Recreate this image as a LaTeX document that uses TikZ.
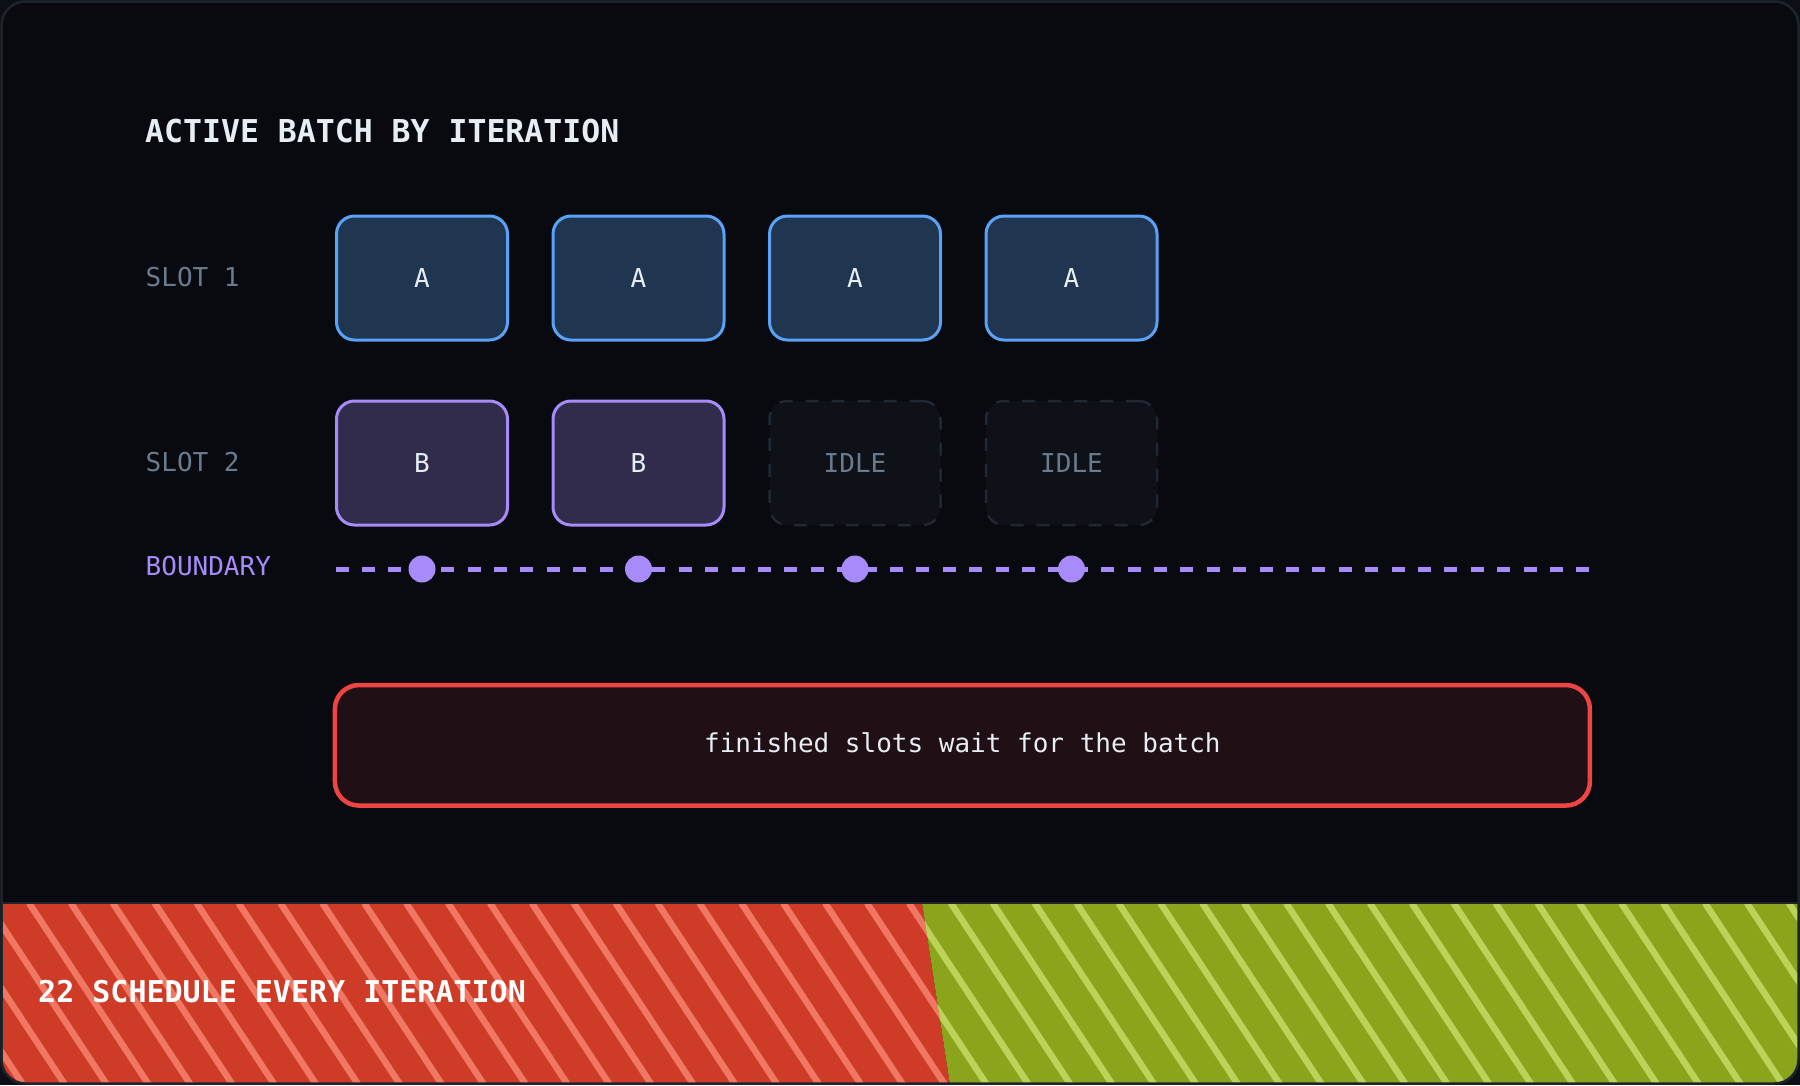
\documentclass[tikz,border=0pt]{standalone}
\usepackage{fontspec}
\newfontfamily\mono{DejaVu Sans Mono}
\definecolor{pagebg}{HTML}{0C1016}
\definecolor{cardbg}{HTML}{080A0F}
\definecolor{cardline}{HTML}{1F242C}
\definecolor{titlec}{HTML}{E6EDF3}
\definecolor{mutedc}{HTML}{6B7B8E}
\definecolor{purp}{HTML}{A78BFA}
\definecolor{blueline}{HTML}{5AA2F5}
\definecolor{bluefill}{HTML}{1F3550}
\definecolor{purpfill}{HTML}{322C4C}
\definecolor{idlefill}{HTML}{0E1118}
\definecolor{idleline}{HTML}{1F2833}
\definecolor{notered}{HTML}{EF4444}
\definecolor{notefill}{HTML}{201016}
\definecolor{bandred}{HTML}{CE3B27}
\definecolor{bandsalmon}{HTML}{F07763}
\definecolor{bandgreen}{HTML}{8AA51B}
\definecolor{bandlight}{HTML}{BCD35A}
\begin{document}
\begin{tikzpicture}[x=1pt,y=-1pt,
  lbl/.style={anchor=base west, inner sep=0pt, font=\mono\fontsize{26}{30}\selectfont},
  slotbox/.style={minimum width=171pt, minimum height=124pt, inner sep=0pt, rounded corners=18pt, line width=3pt, font=\mono\fontsize{26}{30}\selectfont},
  abox/.style={slotbox, draw=blueline, fill=bluefill, text=titlec},
  bbox/.style={slotbox, draw=purp, fill=purpfill, text=titlec},
  idlebox/.style={slotbox, draw=idleline, fill=idlefill, text=mutedc, line width=2.5pt, dash pattern=on 13pt off 13pt},
  bdot/.style={circle, fill=purp, minimum size=27pt, inner sep=0pt},
  stripe/.style={line width=6.5pt},
]
\useasboundingbox (0,0) rectangle (1800,1085);
\fill[pagebg] (0,0) rectangle (1800,1085);
\fill[cardbg, rounded corners=24pt] (1.5,1.5) rectangle (1798.5,1083.5);

% bottom band
\begin{scope}
  \clip[rounded corners=24pt] (2,2) rectangle (1798,1083);
  \fill[bandred] (0,903) -- (922,903) -- (950,1085) -- (0,1085) -- cycle;
  \fill[bandgreen] (922,903) -- (1800,903) -- (1800,1085) -- (950,1085) -- cycle;
  \begin{scope}
    \clip (0,903) -- (922,903) -- (950,1085) -- (0,1085) -- cycle;
    \foreach \k in {-4,...,23} \draw[stripe, bandsalmon] ({29+41.9*\k},903) -- ++(120,182);
  \end{scope}
  \begin{scope}
    \clip (922,903) -- (1800,903) -- (1800,1085) -- (950,1085) -- cycle;
    \foreach \k in {18,...,44} \draw[stripe, bandlight] ({29+41.9*\k},903) -- ++(120,182);
  \end{scope}
  \draw[cardline, line width=1.5pt] (0,903) -- (1800,903);
\end{scope}
\draw[cardline, line width=2.5pt, rounded corners=24pt] (1.5,1.5) rectangle (1798.5,1083.5);

\node[lbl, text=white, font=\mono\bfseries\fontsize{30}{34}\selectfont] (bandtext) at (38,1002.7) {22 SCHEDULE EVERY ITERATION};

% title
\node[lbl, text=titlec, font=\mono\bfseries\fontsize{31.5}{36}\selectfont] (title) at (145,142.7) {ACTIVE BATCH BY ITERATION};

% row labels
\node[lbl, text=mutedc] (slot1) at (145.5,286.5) {SLOT 1};
\node[lbl, text=mutedc] (slot2) at (145.5,471.5) {SLOT 2};
\node[lbl, text=purp] (bound) at (145.5,575.5) {BOUNDARY};

% slot boxes
\node[abox] (a1) at (422,278) {A};
\node[abox] (a2) at (638.5,278) {A};
\node[abox] (a3) at (855,278) {A};
\node[abox] (a4) at (1071.5,278) {A};
\node[bbox] (b1) at (422,463) {B};
\node[bbox] (b2) at (638.5,463) {B};
\node[idlebox] (i1) at (855,463) {IDLE};
\node[idlebox] (i2) at (1071.5,463) {IDLE};

% boundary line
\coordinate (bl) at (335.5,569);
\coordinate (br) at (1589,569);
\draw[purp, line width=5pt, dash pattern=on 13pt off 13.4pt] (bl) -- (br);
\node[bdot] (d1) at (a1 |- bl) {};
\node[bdot] (d2) at (a2 |- bl) {};
\node[bdot] (d3) at (a3 |- bl) {};
\node[bdot] (d4) at (a4 |- bl) {};

% note
\node[draw=notered, fill=notefill, line width=4.5pt, rounded corners=24pt, minimum width=1255pt, minimum height=120.5pt, inner sep=0pt] (note) at (962.4,745.3) {};
\node[anchor=base, inner sep=0pt, text=titlec, font=\mono\fontsize{26}{30}\selectfont] (notetext) at (962.4,752.7) {finished slots wait for the batch};
\end{tikzpicture}
\end{document}
